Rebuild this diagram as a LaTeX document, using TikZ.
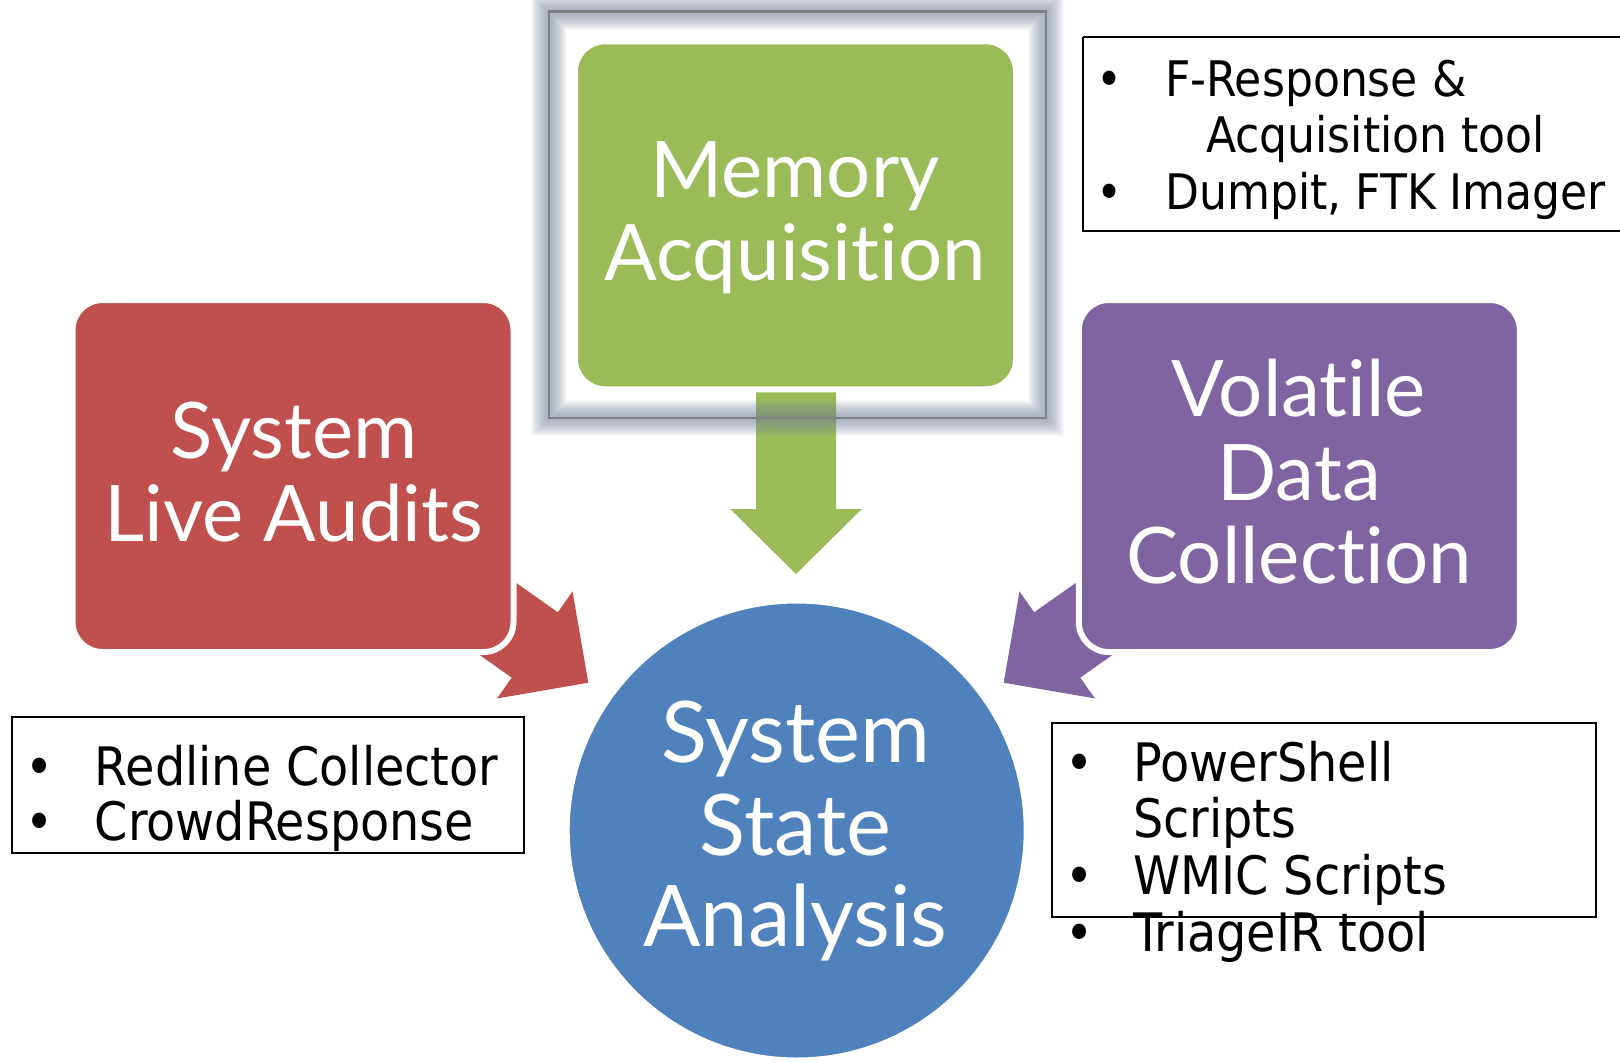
\documentclass[tikz,border=0pt]{standalone}
\usepackage{fontspec}
\setmainfont{Lato}[Ligatures={NoCommon,NoDiscretionary,NoRare}]
\newfontfamily\boxfont{Lato}[Ligatures={NoCommon,NoDiscretionary,NoRare}]
\newfontfamily\bulfont{DejaVu Sans Condensed}
\definecolor{greenc}{HTML}{9BBB59}
\definecolor{redc}{HTML}{C0504D}
\definecolor{purplec}{HTML}{8064A2}
\definecolor{bluec}{HTML}{4F81BD}
\definecolor{glowc}{HTML}{7A8598}
\definecolor{framec}{HTML}{7F8185}
\tikzset{
  shapebox/.style={rounded corners=30, fill=#1, draw=white, line width=6,
    minimum width=441, minimum height=350, inner sep=0},
  circbox/.style={circle, fill=bluec, draw=white, line width=6,
    minimum size=460, inner sep=0},
  bigtxt/.style={text=white, font=\boxfont\fontsize{78}{84}\selectfont, anchor=base, inner sep=0},
  circtxt/.style={text=white, font=\boxfont\fontsize{85}{90}\selectfont, anchor=base, inner sep=0},
  bulA/.style={font=\bulfont\fontsize{49}{56}\selectfont, anchor=base, inner sep=0},
  bulAtxt/.style={font=\bulfont\fontsize{49}{56}\selectfont, anchor=base west, inner sep=0},
  bulB/.style={font=\bulfont\fontsize{53}{56}\selectfont, anchor=base, inner sep=0},
  bulBtxt/.style={font=\bulfont\fontsize{53}{56}\selectfont, anchor=base west, inner sep=0},
  listbox/.style={draw=black, line width=2},
  blockarrow/.style={fill=#1}
}
\begin{document}
\begin{tikzpicture}[x=1pt,y=-1pt]
\useasboundingbox (0,0) rectangle (1620,1063);

% arrow tips
\coordinate (redtip) at (588.3,682.7);
\coordinate (purtip) at (1003.7,682.7);
\coordinate (grntip) at (796,574);

% block arrows (drawn first, boxes cover their tails)
\begin{scope}[shift={(redtip)}, rotate=-35.2]
  \fill[blockarrow=redc] (0,0) -- (-65.5,65.5) -- (-65.5,40) -- (-260,40) -- (-260,-40) -- (-65.5,-40) -- (-65.5,-65.5) -- cycle;
\end{scope}
\begin{scope}[shift={(purtip)}, rotate=-144.8]
  \fill[blockarrow=purplec] (0,0) -- (-65.5,65.5) -- (-65.5,40) -- (-260,40) -- (-260,-40) -- (-65.5,-40) -- (-65.5,-65.5) -- cycle;
\end{scope}
\begin{scope}[shift={(grntip)}, rotate=-90]
  \fill[blockarrow=greenc] (0,0) -- (-65,65.8) -- (-65,40) -- (-260,40) -- (-260,-40) -- (-65,-40) -- (-65,-65.8) -- cycle;
\end{scope}

% selection frame with soft glow
\foreach \i in {1,...,18}
  \draw[glowc, line width=2*\i, opacity=0.055] (549,11.5) rectangle (1046,418);
\draw[framec, line width=2.5] (549,11.5) rectangle (1046,418);

% main shapes
\node[shapebox=greenc, minimum height=348] (mem) at (795.5,215.3) {};
\node[shapebox=redc, minimum height=352] (live) at (293,476) {};
\node[shapebox=purplec, minimum height=352] (vol) at (1299.3,476) {};
\node[circbox] (sys) at (796.7,830.5) {};

% shape texts
\node[bigtxt] (memA) at (795,197) {Memory};
\node[bigtxt] (memB) at (795,280.5) {Acquisition};
\node[bigtxt] (liveA) at (294,458.3) {System};
\node[bigtxt] (liveB) at (294,541.7) {Live Audits};
\node[bigtxt] (volA) at (1299,416.7) {Volatile};
\node[bigtxt] (volB) at (1299,500) {Data};
\node[bigtxt] (volC) at (1299,583.3) {Collection};
\node[circtxt] (sysA) at (795.5,762.7) {System};
\node[circtxt] (sysB) at (795.5,855) {State};
\node[circtxt] (sysC) at (795.5,946.7) {Analysis};

% top-right list
\draw[listbox] (1083,36.5) -- (1630,36.5) (1083,36.5) -- (1083,230.5) -- (1630,230.5);
\node[bulA] (trb1) at (1109,96) {•};
\node[bulAtxt] (trt1) at (1165,96) {F-Response \&};
\node[bulAtxt] (trt2) at (1206,152.7) {Acquisition tool};
\node[bulA] (trb2) at (1109,209) {•};
\node[bulAtxt] (trt3) at (1165,209) {Dumpit, FTK Imager};

% left list
\draw[listbox] (12,717) rectangle (524,853);
\node[bulB] (lb1) at (40,785) {•};
\node[bulBtxt] (lt1) at (94.7,785) {Redline Collector};
\node[bulB] (lb2) at (40,840) {•};
\node[bulBtxt] (lt2) at (94.7,840) {CrowdResponse};

% right list
\draw[listbox] (1052,723.3) rectangle (1595.5,916.7);
\node[bulB] (rb1) at (1080,781) {•};
\node[bulBtxt] (rt1) at (1133,781) {PowerShell};
\node[bulBtxt] (rt2) at (1133,837.5) {Scripts};
\node[bulB] (rb2) at (1080,894.5) {•};
\node[bulBtxt] (rt3) at (1133,894.5) {WMIC Scripts};
\node[bulB] (rb3) at (1080,951) {•};
\node[bulBtxt] (rt4) at (1133,951) {TriageIR tool};
\end{tikzpicture}
\end{document}
